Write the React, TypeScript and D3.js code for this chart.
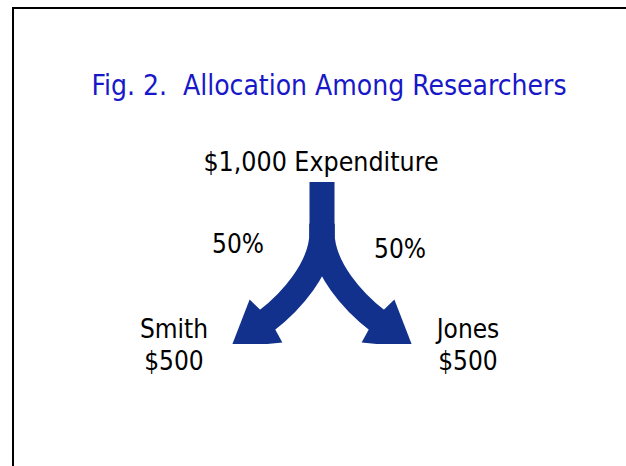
import { useEffect, useRef } from "react"
import * as d3 from "d3"

// diagram values
const title = "Fig. 2.  Allocation Among Researchers"
const sourceLabel = "$1,000 Expenditure"
const totalAmount = 1000
const recipients = ["Smith", "Jones"]
const shares = [50, 50] // percent
const sides = [-1, 1] // left / right branch

const W = 626
const H = 466
const ARROW_BLUE = "#12318c"
const TITLE_BLUE = "#1818c8"
const FONT = "'DejaVu Sans Condensed', 'DejaVu Sans', sans-serif"

export default function App() {
  const svgRef = useRef<SVGSVGElement>(null)

  useEffect(() => {
    document.body.style.margin = "0"
    if (!svgRef.current) return
    const svg = d3.select(svgRef.current)
    svg.selectAll("*").remove()

    // horizontal scale for branch sides, vertical scale for flow depth
    const x = d3.scaleLinear().domain([-1, 0, 1]).range([266, 322, 378])
    const y = d3.scaleLinear().domain([0, 1]).range([182, 321])

    // frame
    svg.append("rect")
      .attr("x", 13).attr("y", 8)
      .attr("width", 640).attr("height", 480)
      .attr("fill", "none").attr("stroke", "#000").attr("stroke-width", 2)

    svg.append("text")
      .attr("x", 329).attr("y", 95)
      .attr("text-anchor", "middle")
      .attr("font-family", FONT).attr("font-size", 28)
      .attr("fill", TITLE_BLUE)
      .style("white-space", "pre")
      .text(title)

    svg.append("text")
      .attr("x", 321).attr("y", 171)
      .attr("text-anchor", "middle")
      .attr("font-family", FONT).attr("font-size", 26.5)
      .attr("fill", "#000")
      .text(sourceLabel)

    const defs = svg.append("defs")
    defs.append("clipPath").attr("id", "arrowClip")
      .append("rect").attr("x", 0).attr("y", 0).attr("width", W).attr("height", 344)

    const g = svg.append("g").attr("clip-path", "url(#arrowClip)")

    // stem
    g.append("line")
      .attr("x1", x(0)).attr("x2", x(0))
      .attr("y1", y(0)).attr("y2", y(0.4))
      .attr("stroke", ARROW_BLUE).attr("stroke-width", 25)

    const angle = Math.atan2(32, 42) // downward tilt of arrow heads

    sides.forEach((s, i) => {
      const dx = s * Math.cos(angle)
      const dy = Math.sin(angle)
      const ex = x(s)
      const ey = y(1)

      // curved branch
      const p = d3.path()
      p.moveTo(x(0), y(0.3))
      p.lineTo(x(0), y(0.36))
      p.bezierCurveTo(x(0), y(0.62), ex - dx * 30, ey - dy * 30, ex, ey)
      g.append("path")
        .attr("d", p.toString())
        .attr("fill", "none")
        .attr("stroke", ARROW_BLUE)
        .attr("stroke-width", 25)

      // arrow head
      const half = 27
      const len = 44
      const px = -dy * s, py = dx * s
      const head: [number, number][] = [
        [ex + px * half, ey + py * half],
        [ex + dx * len, ey + dy * len],
        [ex - px * half, ey - py * half],
        [ex - dx * 4, ey - dy * 4],
      ]
      g.append("path")
        .attr("d", d3.line()(head) + "Z")
        .attr("fill", ARROW_BLUE)

      // share label
      svg.append("text")
        .attr("x", s < 0 ? 238 : 400)
        .attr("y", s < 0 ? 253 : 258)
        .attr("text-anchor", "middle")
        .attr("font-family", FONT).attr("font-size", 26)
        .text(`${shares[i]}%`)

      const amount = (totalAmount * shares[i]) / 100
      const lx = s < 0 ? 174 : 468
      svg.append("text")
        .attr("x", lx).attr("y", 338)
        .attr("text-anchor", "middle")
        .attr("font-family", FONT).attr("font-size", 26)
        .text(recipients[i])
      svg.append("text")
        .attr("x", lx).attr("y", 370)
        .attr("text-anchor", "middle")
        .attr("font-family", FONT).attr("font-size", 26)
        .text(`$${amount}`)
    })
  }, [])

  return <svg ref={svgRef} width={W} height={H} style={{ display: "block", background: "#fff" }} />
}
